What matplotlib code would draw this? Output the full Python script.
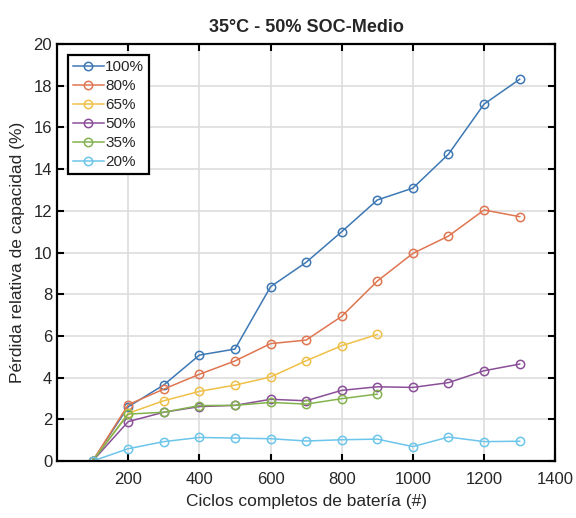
import numpy as np
import matplotlib.pyplot as plt

plt.rcParams['font.family'] = ['Liberation Sans', 'DejaVu Sans']

ciclos = [100, 200, 300, 400, 500, 600, 700, 800, 900, 1000, 1100, 1200, 1300]
ciclos_cortos = ciclos[:9]

soc100 = [0, 2.6, 3.65, 5.08, 5.37, 8.36, 9.53, 11.0, 12.52, 13.09, 14.72, 17.12, 18.31]
soc80 = [0, 2.7, 3.45, 4.16, 4.8, 5.63, 5.8, 6.94, 8.63, 9.96, 10.79, 12.04, 11.72]
soc65 = [0, 2.29, 2.89, 3.34, 3.64, 4.03, 4.81, 5.53, 6.07]
soc50 = [0, 1.89, 2.34, 2.61, 2.67, 2.96, 2.89, 3.39, 3.56, 3.53, 3.76, 4.33, 4.65]
soc35 = [0, 2.25, 2.34, 2.66, 2.67, 2.81, 2.73, 2.99, 3.21]
soc20 = [0, 0.59, 0.93, 1.13, 1.1, 1.07, 0.96, 1.02, 1.05, 0.69, 1.15, 0.93, 0.95]

etiquetas = ['100%', '80%', '65%', '50%', '35%', '20%']
colores = ['#3d78b4', '#df7651', '#efc048', '#8a4f98', '#82b34e', '#6cc5ea']
gris = '#262626'

fig = plt.figure(figsize=(5.76, 5.18), dpi=100)
ax = fig.add_axes([0.099, 0.110, 0.865, 0.805])

series = [(ciclos, soc100), (ciclos, soc80), (ciclos_cortos, soc65),
          (ciclos, soc50), (ciclos_cortos, soc35), (ciclos, soc20)]
for (x, y), lab, col in zip(series, etiquetas, colores):
    ax.plot(x, y, '-o', color=col, lw=1.1, ms=6, mfc='none', mew=1.1, label=lab)

ax.set_xlim(0, 1400)
ax.set_ylim(0, 20)
ax.set_xticks(np.arange(200, 1401, 200))
ax.set_yticks(np.arange(0, 21, 2))
ax.grid(True, color='#dddddd', lw=1.2)
ax.set_axisbelow(True)
ax.tick_params(direction='in', top=True, right=True, length=5, width=1.5,
               labelsize=12, colors='black', labelcolor=gris)
ax.tick_params(axis='x', pad=8)
for s in ax.spines.values():
    s.set_linewidth(1.6)

ax.set_title('35°C - 50% SOC-Medio', fontsize=13, fontweight='bold', pad=9, color=gris)
ax.set_xlabel('Ciclos completos de batería (#)', fontsize=12.5, labelpad=5, color=gris)
ax.set_ylabel('Pérdida relativa de capacidad (%)', fontsize=12.5, labelpad=6, color=gris)

leg = ax.legend(loc='upper left', fontsize=11, fancybox=False, framealpha=1,
                edgecolor='black', handlelength=2.0, handletextpad=0.1,
                labelspacing=0.33, borderaxespad=0.75, borderpad=0.3)
leg.get_frame().set_linewidth(1.6)
for t in leg.get_texts():
    t.set_color(gris)

fig.savefig('out.png', dpi=100)
